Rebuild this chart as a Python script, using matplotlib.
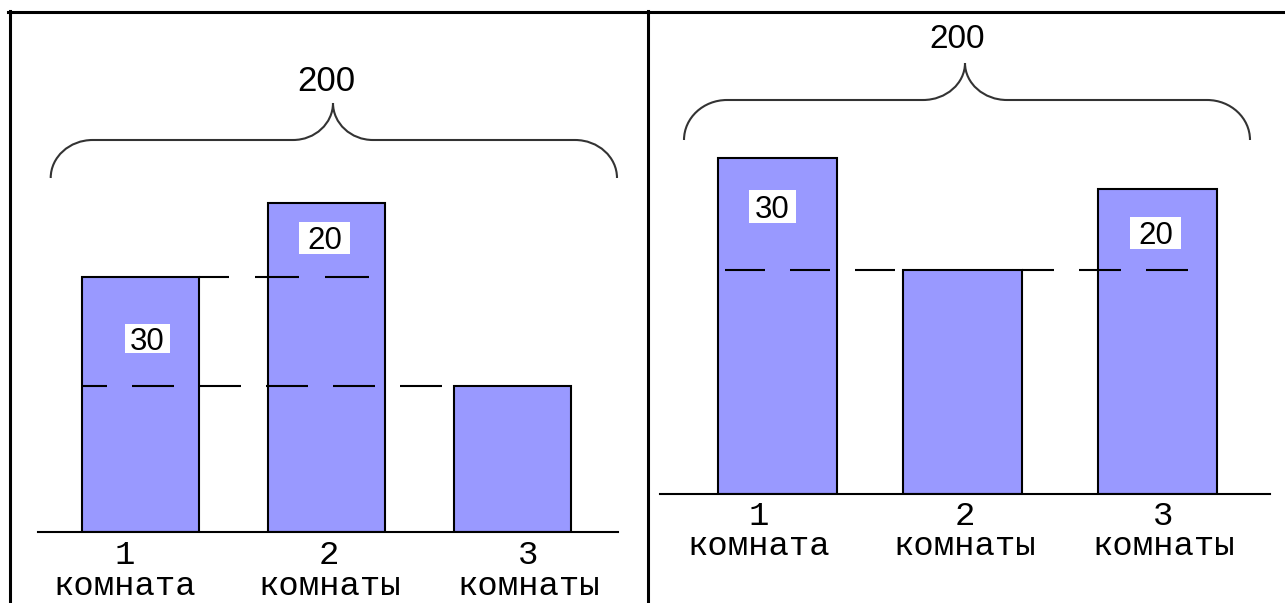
import matplotlib
matplotlib.use("Agg")
import matplotlib.pyplot as plt
from matplotlib.path import Path
from matplotlib.patches import PathPatch, Rectangle
from matplotlib.lines import Line2D
from matplotlib.transforms import Affine2D

plt.rcParams['font.family'] = ['Liberation Sans', 'DejaVu Sans']
plt.rcParams['lines.scale_dashes'] = False

# data
categories = ["1", "2", "3"]
room_words = ["комната", "комнаты", "комнаты"]
total_label = "200"
left_values = [70, 90, 40]      # 1 room = 3 rooms + 30, 2 rooms = 1 room + 20
right_values = [75, 50, 68]     # 1 room = 2 rooms + 30, 3 rooms = 2 rooms + 20
left_diffs = ["30", "20"]
right_diffs = ["30", "20"]

W, H = 1285, 603
bar_color = "#9999ff"

fig = plt.figure(figsize=(W / 100, H / 100), dpi=100)
# image pixel coords (y down) -> figure
px = Affine2D().scale(1 / W, -1 / H).translate(0, 1) + fig.transFigure


def px_axes(x0, x1, y_top, y_base):
    return fig.add_axes([x0 / W, 1 - y_base / H, (x1 - x0) / W, (y_base - y_top) / H])


def clean(ax):
    for s in ['top', 'right', 'left']:
        ax.spines[s].set_visible(False)
    ax.spines['bottom'].set_linewidth(1.5)
    ax.set_xticks([])
    ax.set_yticks([])
    ax.patch.set_alpha(0)


def brace(x0, x1, xm, y_end, y_flat, y_tip, r_end, r_mid):
    k = 0.552
    verts = [
        (x0, y_end),
        (x0, y_end - k * (y_end - y_flat)), (x0 + r_end * (1 - k), y_flat), (x0 + r_end, y_flat),
        (xm - r_mid, y_flat),
        (xm - r_mid * (1 - k), y_flat), (xm, y_tip + k * (y_flat - y_tip)), (xm, y_tip),
        (xm, y_tip + k * (y_flat - y_tip)), (xm + r_mid * (1 - k), y_flat), (xm + r_mid, y_flat),
        (x1 - r_end, y_flat),
        (x1 - r_end * (1 - k), y_flat), (x1, y_end - k * (y_end - y_flat)), (x1, y_end),
    ]
    codes = [Path.MOVETO] + [Path.CURVE4] * 3 + [Path.LINETO] + [Path.CURVE4] * 6 \
        + [Path.LINETO] + [Path.CURVE4] * 3
    fig.add_artist(PathPatch(Path(verts, codes), transform=px, fill=False,
                             edgecolor="#333333", lw=1.5))


def dashed(ax, x0, x1, y, on, off, offset):
    # dash lengths given in pixels
    ax.plot([x0, x1], [y, y], color="black", lw=1.5,
            ls=(offset * 0.72, (on * 0.72, off * 0.72)), zorder=3, clip_on=False)


def diff_box(x0, x1, y0, y1, s):
    # white box with the difference written in it (image pixel coords)
    fig.add_artist(Rectangle((x0, y0), x1 - x0, y1 - y0, transform=px,
                             facecolor="white", edgecolor="none", zorder=5))
    fig.text((x0 + x1) / 2 / W, 1 - ((y0 + y1) / 2 + 11) / H, s, ha='center',
             va='baseline', fontsize=22.5, zorder=6)


pos = [0, 1, 2]

# ---- left panel ----
axl = px_axes(38, 618, 20, 532)
axl.set_xlim(-(140.5 - 38) / 186, (618 - 140.5) / 186)
axl.set_ylim(0, 512 / 3.65)
axl.bar(pos, left_values, width=0.63, color=bar_color, edgecolor="black", lw=1.5, zorder=2)
clean(axl)
dashed(axl, -0.315, 1.659, left_values[2], 42, 25, 17)
dashed(axl, 0.315, 1.255, left_values[0], 44, 26, 14)
for x, num, word in zip([-0.085, 1.015, 2.085], categories, room_words):
    axl.text(x, -17.3, num + "\n" + word, ha='center', va='baseline', fontsize=24.5,
             family='Liberation Mono', linespacing=1.02, clip_on=False)
brace(50.7, 617, 333, 178, 140, 103, 42, 40)
fig.text(326.5 / W, 1 - 91 / H, total_label, ha='center', va='baseline', fontsize=25)
diff_box(125, 170, 324, 353, left_diffs[0])
diff_box(299, 350, 222, 254, left_diffs[1])

# ---- right panel ----
axr = px_axes(660, 1270, 20, 494)
axr.set_xlim(-(777.5 - 660) / 190, (1270 - 777.5) / 190)
axr.set_ylim(0, 474 / 4.48)
axr.bar([0, 0.974, 2], right_values, width=0.626, color=bar_color, edgecolor="black",
        lw=1.5, zorder=2)
clean(axr)
dashed(axr, -0.276, 0.618, right_values[1], 40, 25, 0)
dashed(axr, 1.287, 2.182, right_values[1], 42, 25, 10)
for x, num, word in zip([-0.097, 0.985, 2.03], categories, room_words):
    axr.text(x, -13.6, num + "\n" + word, ha='center', va='baseline', fontsize=24.5,
             family='Liberation Mono', linespacing=0.95, clip_on=False)
brace(684, 1250, 965, 140, 100, 63, 43, 42)
fig.text(957 / W, 1 - 48 / H, total_label, ha='center', va='baseline', fontsize=24)
diff_box(749, 796, 190, 223, right_diffs[0])
diff_box(1130, 1181, 217, 249, right_diffs[1])

# frame lines
for xs, ys in [([8, W], [11.5, 11.5]), ([9.5, 9.5], [11, H]), ([647.5, 647.5], [11, H])]:
    fig.add_artist(Line2D(xs, ys, transform=px, color="black", lw=2.2))

fig.savefig("out.png", dpi=100, facecolor="white")
